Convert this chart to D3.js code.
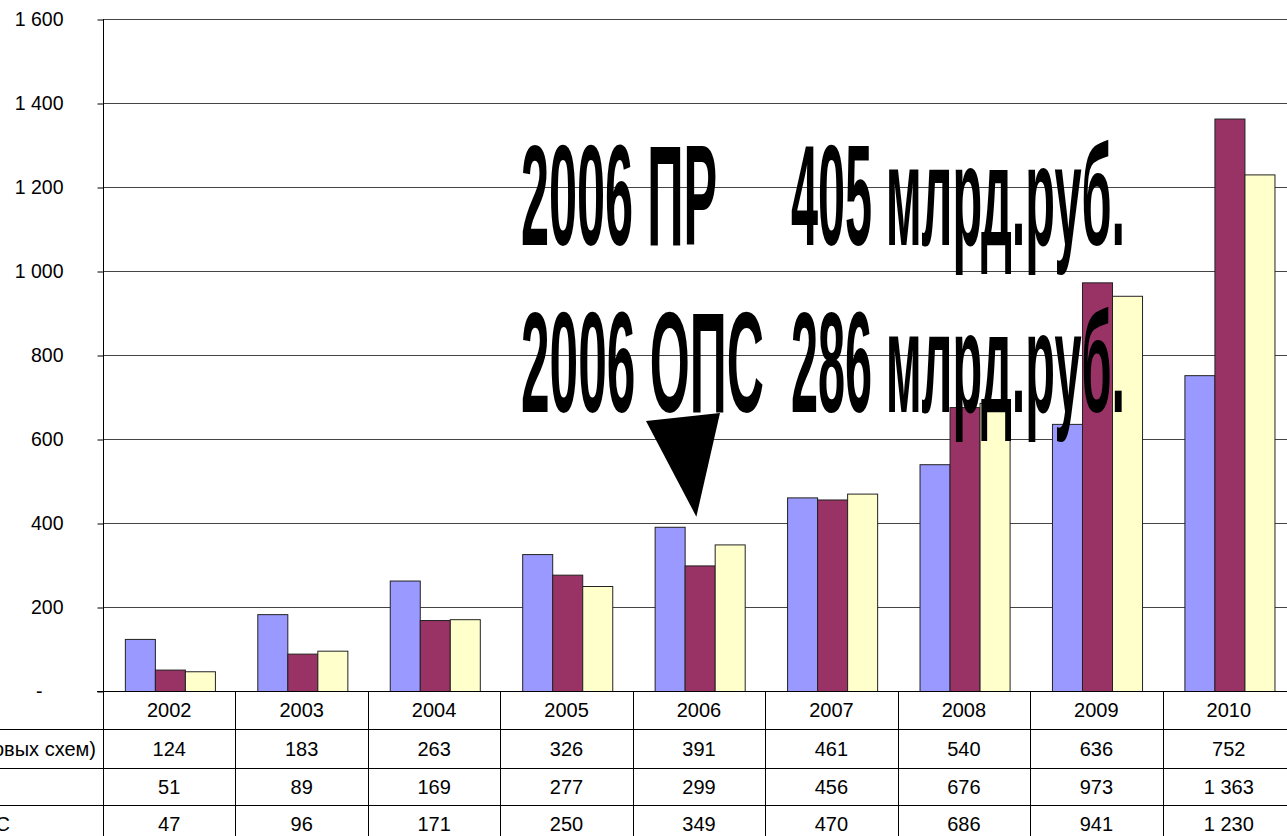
<!DOCTYPE html>
<html>
<head>
<meta charset="utf-8">
<script src="https://cdn.jsdelivr.net/npm/d3@7/dist/d3.min.js"></script>
<style>
  html, body { margin: 0; padding: 0; background: #fff; overflow: hidden; }
  svg { display: block; }
  text { font-family: "Liberation Sans", Arial, sans-serif; }
</style>
</head>
<body>
<svg id="chart" width="1287" height="836"></svg>
<script>
// ---- data ----
const years = ["2002", "2003", "2004", "2005", "2006", "2007", "2008", "2009", "2010"];
const seriesNames = ["ПР (без учета страховых схем)", "ПН", "ОПС"];
const seriesPR  = [124, 183, 263, 326, 391, 461, 540, 636, 752];
const seriesPN  = [51, 89, 169, 277, 299, 456, 676, 973, 1363];
const seriesOPS = [47, 96, 171, 250, 349, 470, 686, 941, 1230];
const yTicks = [0, 200, 400, 600, 800, 1000, 1200, 1400, 1600];
const annotLine1 = ["2006 ПР", "405 млрд.руб."];
const annotLine2 = ["2006 ОПС", "286 млрд.руб."];
const colors = ["#9999FF", "#993366", "#FFFFCC"];

const series = [seriesPR, seriesPN, seriesOPS];

// ---- layout ----
const svg = d3.select("#chart");
const plotLeft = 103, plotRight = 1295, plotTop = 19, plotBottom = 691;
const rowBounds = [691, 729, 768, 805, 842];

const x0 = d3.scaleBand().domain(years).range([plotLeft, plotRight]).padding(0);
const bw = x0.bandwidth();
const x1 = d3.scaleBand().domain(d3.range(series.length)).range([bw * 0.165, bw * 0.845]).padding(0);
const y = d3.scaleLinear().domain([0, 1600]).range([plotBottom, plotTop]);

const fmtT = v => d3.format(",")(v).replace(/,/g, " ");

// gridlines
svg.append("g").selectAll("line").data(yTicks.filter(d => d > 0)).join("line")
  .attr("x1", plotLeft).attr("x2", 1287)
  .attr("y1", d => Math.round(y(d)) + 0.5).attr("y2", d => Math.round(y(d)) + 0.5)
  .attr("stroke", "#444").attr("stroke-width", 1);

// y axis
const yAxis = d3.axisLeft(y).tickValues(yTicks).tickSize(6).tickPadding(34)
  .tickFormat(d => d === 0 ? "-" : fmtT(d));
const gy = svg.append("g").attr("transform", `translate(${plotLeft + 0.5},0.5)`).call(yAxis);
gy.select(".domain").remove();
gy.selectAll(".tick line").attr("stroke", "#000");
gy.selectAll(".tick text").attr("font-size", 19.5).attr("fill", "#000")
  .attr("font-family", "Liberation Sans, Arial, sans-serif")
  .filter(d => d === 0).attr("x", -61);

// bars
const groups = svg.append("g").selectAll("g").data(years).join("g")
  .attr("transform", d => `translate(${x0(d)},0)`);
groups.selectAll("rect").data((d, i) => series.map((s, k) => ({ k, v: s[i] }))).join("rect")
  .attr("x", d => x1(d.k) + 0.5)
  .attr("width", x1.bandwidth())
  .attr("y", d => y(d.v) + 0.5)
  .attr("height", d => y(0) - y(d.v))
  .attr("fill", d => colors[d.k])
  .attr("stroke", "#222").attr("stroke-width", 1);

// axis line (vertical, extends through the table)
svg.append("line").attr("x1", plotLeft + 0.5).attr("x2", plotLeft + 0.5)
  .attr("y1", plotTop).attr("y2", 836).attr("stroke", "#000");
// bottom axis line
svg.append("line").attr("x1", plotLeft - 6).attr("x2", 1287)
  .attr("y1", plotBottom + 0.5).attr("y2", plotBottom + 0.5).attr("stroke", "#000");

// data table
const tbl = svg.append("g");
rowBounds.slice(1, 4).forEach(yy => {
  tbl.append("line").attr("x1", 0).attr("x2", 1287)
    .attr("y1", yy + 0.5).attr("y2", yy + 0.5).attr("stroke", "#000");
});
tbl.selectAll("line.v").data(years.slice(1)).join("line").attr("class", "v")
  .attr("x1", d => Math.round(x0(d)) + 0.5).attr("x2", d => Math.round(x0(d)) + 0.5)
  .attr("y1", plotBottom).attr("y2", 836).attr("stroke", "#000");
const rowMid = i => (rowBounds[i] + rowBounds[i + 1]) / 2;
tbl.selectAll("text.yr").data(years).join("text").attr("class", "yr")
  .attr("x", d => x0(d) + bw / 2).attr("y", rowMid(0) + 7)
  .attr("text-anchor", "middle").attr("font-size", 20).text(d => d);
series.forEach((s, k) => {
  tbl.selectAll("text.s" + k).data(s).join("text").attr("class", "s" + k)
    .attr("x", (d, i) => x0(years[i]) + bw / 2).attr("y", rowMid(k + 1) + 7)
    .attr("text-anchor", "middle").attr("font-size", 20).text(d => fmtT(d));
});
// row labels (cut off at the left edge, as in the original)
const labelEnds = [96, -8, 10];
seriesNames.forEach((n, k) => {
  tbl.append("text").attr("x", labelEnds[k]).attr("y", rowMid(k + 1) + 7)
    .attr("text-anchor", "end").attr("font-size", 20).text(n);
});

// arrow pointing at the 2006 group
const tip = [x0("2006") + bw * 0.48, y(415)];
svg.append("path")
  .attr("d", `M${646},${421} L${720},${413} L${tip[0]},${tip[1]} Z`)
  .attr("fill", "#000");

// big annotation text
const ann = svg.append("g");
const lines = [
  { t: annotLine1, base: 245, lens: [196, 334] },
  { t: annotLine2, base: 412, lens: [243, 334] }
];
const starts = [521, 791];
lines.forEach(L => {
  L.t.forEach((s, j) => {
    ann.append("text").attr("x", starts[j]).attr("y", L.base)
      .attr("font-size", 142).attr("font-weight", "bold")
      .attr("textLength", L.lens[j]).attr("lengthAdjust", "spacingAndGlyphs")
      .attr("fill", "#000").text(s);
  });
});
</script>
</body>
</html>
